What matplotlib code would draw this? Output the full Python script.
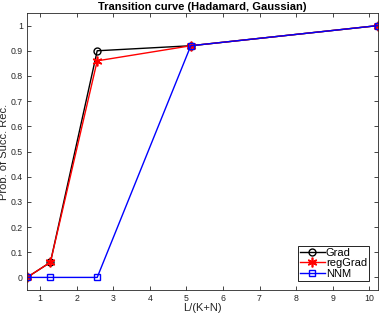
import numpy as np
import matplotlib
matplotlib.use('Agg')
import matplotlib.pyplot as plt

plt.rcParams['font.family'] = ['Liberation Sans', 'DejaVu Sans']

# Data
ratio = [0.64, 1.28, 2.56, 5.12, 10.24]
grad = [0.0, 0.06, 0.90, 0.92, 1.0]
reg_grad = [0.0, 0.06, 0.86, 0.92, 1.0]
nnm = [0.0, 0.0, 0.0, 0.92, 1.0]
xticks = [1, 2, 3, 4, 5, 6, 7, 8, 9, 10]
yticks = [0, 0.1, 0.2, 0.3, 0.4, 0.5, 0.6, 0.7, 0.8, 0.9, 1]

gray = '#262626'

fig = plt.figure(figsize=(3.82, 3.13), dpi=100)
ax = fig.add_axes([27 / 382, 23 / 313, 351 / 382, 277 / 313])

ax.plot(ratio, grad, color='black', marker='o', markersize=5,
        markerfacecolor='none', linewidth=1, label='Grad')
ax.plot(ratio, reg_grad, color='red', marker=(6, 2, 0), markersize=7,
        markeredgewidth=1.2, linewidth=1, label='regGrad')
ax.plot(ratio, nnm, color='blue', marker='s', markersize=4.5,
        markerfacecolor='none', linewidth=1, label='NNM')

ax.set_xlim(0.64, 10.24)
ax.set_ylim(-0.05, 1.05)
ax.set_xticks(xticks)
ax.set_xticklabels([str(t) for t in xticks])
ax.set_yticks(yticks)
ax.set_yticklabels(['0', '0.1', '0.2', '0.3', '0.4', '0.5', '0.6', '0.7', '0.8', '0.9', '1'])
ax.tick_params(direction='in', top=True, right=True, labelsize=6.3,
               colors=gray, length=3, width=0.6, pad=3)
for s in ax.spines.values():
    s.set_color(gray)
    s.set_linewidth(0.6)

ax.set_title('Transition curve (Hadamard, Gaussian)', fontsize=8,
             fontweight='bold', pad=2)
ax.set_xlabel('L/(K+N)', fontsize=8, color=gray, labelpad=0)
ax.set_ylabel('Prob. of Succ. Rec.', fontsize=8, color=gray, labelpad=1)

leg = ax.legend(loc='lower right', fontsize=8, fancybox=False,
                edgecolor='black', framealpha=1, borderpad=0.2,
                labelspacing=0.05, handlelength=2.2, handletextpad=0.1,
                borderaxespad=0.8)
leg.get_frame().set_linewidth(0.6)

plt.savefig('out.png', dpi=100)
